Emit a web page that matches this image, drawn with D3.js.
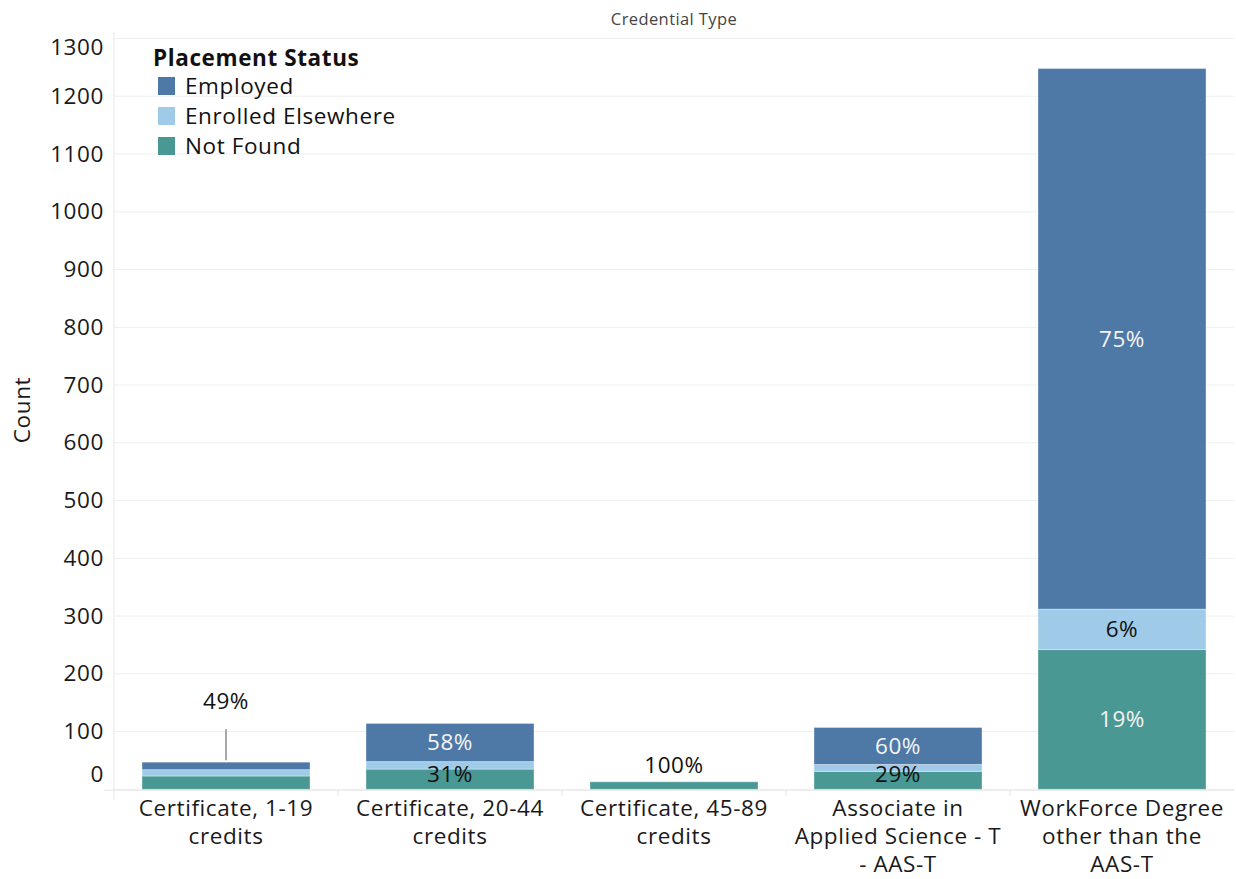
<!DOCTYPE html>
<html>
<head>
<meta charset="utf-8">
<script src="https://cdn.jsdelivr.net/npm/d3@7"></script>
<style>
  html, body { margin: 0; padding: 0; background: #fff; }
  svg { display: block; font-family: "Open Sans", Lato, sans-serif; letter-spacing: 0.6px; }
</style>
</head>
<body>
<svg id="chart" width="1236" height="879"></svg>
<script>
// Placement counts by credential type
const categories = [
  "Certificate, 1-19 credits",
  "Certificate, 20-44 credits",
  "Certificate, 45-89 credits",
  "Associate in Applied Science - T - AAS-T",
  "WorkForce Degree other than the AAS-T"
];
const categoryLines = [
  ["Certificate, 1-19", "credits"],
  ["Certificate, 20-44", "credits"],
  ["Certificate, 45-89", "credits"],
  ["Associate in", "Applied Science - T", "- AAS-T"],
  ["WorkForce Degree", "other than the", "AAS-T"]
];
const statuses = ["Employed", "Enrolled Elsewhere", "Not Found"];
const employed = [13, 66, 0, 64, 936];
const enrolledElsewhere = [11, 13, 0, 12, 70];
const notFound = [23, 35, 13, 31, 242];
const yTicks = [0, 100, 200, 300, 400, 500, 600, 700, 800, 900, 1000, 1100, 1200, 1300];

const colors = ["#4e79a7", "#a0cbe8", "#499894"];
const FONT = "'Open Sans', Lato, sans-serif";
const FS = 22.5;

const svg = d3.select("#chart");
const W = 1236, H = 879;
const margin = { top: 38.5, right: 2, bottom: 89.7, left: 114 };
const plotW = W - margin.left - margin.right;
const plotH = H - margin.top - margin.bottom;

const rows = categories.map((c, i) => ({
  category: c,
  "Employed": employed[i],
  "Enrolled Elsewhere": enrolledElsewhere[i],
  "Not Found": notFound[i]
}));
rows.forEach(r => { r.total = statuses.reduce((s, k) => s + r[k], 0); });

// Stack order from the baseline up: Not Found, Enrolled Elsewhere, Employed
const stackOrder = ["Not Found", "Enrolled Elsewhere", "Employed"];
const series = d3.stack().keys(stackOrder)(rows);

const x = d3.scaleBand().domain(categories).range([0, plotW]).paddingInner(0.25).paddingOuter(0.125);
const y = d3.scaleLinear().domain([0, 1300]).range([plotH, 0]);
const color = d3.scaleOrdinal().domain(statuses).range(colors);

const g = svg.append("g").attr("transform", `translate(${margin.left},${margin.top})`);

// Horizontal gridlines
g.append("g").selectAll("line").data(yTicks).join("line")
  .attr("x1", 0).attr("x2", plotW)
  .attr("y1", d => y(d)).attr("y2", d => y(d))
  .attr("stroke", "#efefef").attr("stroke-width", 1);

// Y axis labels (edge labels kept inside the pane)
const yAxis = d3.axisLeft(y).tickValues(yTicks).tickFormat(d3.format("d")).tickSize(0).tickPadding(10);
const yg = g.append("g").call(yAxis);
yg.select(".domain").remove();
yg.selectAll(".tick text")
  .attr("font-size", FS).attr("fill", "#1a1a1a")
  .attr("font-family", FONT)
  .attr("transform", d => d === 0 ? "translate(0,-15)" : (d === 1300 ? "translate(0,8.5)" : null));

// Pane border lines
g.append("line").attr("x1", 0).attr("x2", 0).attr("y1", -6).attr("y2", plotH + 10)
  .attr("stroke", "#e6e6e6").attr("stroke-width", 1);
g.append("line").attr("x1", -10).attr("x2", plotW).attr("y1", plotH + 1).attr("y2", plotH + 1)
  .attr("stroke", "#e6e6e6").attr("stroke-width", 1);

// Category separators on the x axis
g.append("g").selectAll("line").data(categories.slice(1)).join("line")
  .attr("x1", d => x(d) - x.step() * x.paddingInner() / 2)
  .attr("x2", d => x(d) - x.step() * x.paddingInner() / 2)
  .attr("y1", plotH + 1).attr("y2", plotH + 7)
  .attr("stroke", "#e6e6e6");

// Stacked bars
g.append("g").selectAll("g").data(series).join("g")
  .attr("fill", d => color(d.key))
  .selectAll("rect").data(d => d.filter(p => p[1] > p[0])).join("rect")
  .attr("x", d => x(d.data.category))
  .attr("width", x.bandwidth())
  .attr("y", d => y(d[1]))
  .attr("height", d => y(d[0]) - y(d[1]))
  .attr("stroke", "rgba(255,255,255,0.35)").attr("stroke-width", 1);

// Percentage labels
const labelG = g.append("g").attr("font-size", FS).attr("text-anchor", "middle");
series.forEach(s => {
  s.forEach(p => {
    const r = p.data;
    const v = r[s.key];
    if (v <= 0) return;
    const pct = Math.round(v / r.total * 100) + "%";
    const top = y(p[1]), bot = y(p[0]);
    const h = bot - top;
    const cx = x(r.category) + x.bandwidth() / 2;
    if (h >= 16) {
      const cy = Math.min((top + bot) / 2, plotH - 15);
      const dark = s.key !== "Enrolled Elsewhere" && h > 30;
      labelG.append("text").attr("x", cx).attr("y", cy).attr("dy", "0.35em")
        .attr("fill", dark ? "#f4f4f4" : "#111").text(pct);
    } else if (s.key === "Not Found") {
      const barTop = y(r.total);
      if (r.total > v) {
        // label lifted above the bar with a leader line
        g.append("line").attr("x1", cx).attr("x2", cx)
          .attr("y1", barTop - 33).attr("y2", barTop - 2)
          .attr("stroke", "#a8a8a8").attr("stroke-width", 2);
        labelG.append("text").attr("x", cx).attr("y", barTop - 61).attr("dy", "0.35em")
          .attr("fill", "#111").text(pct);
      } else {
        labelG.append("text").attr("x", cx).attr("y", barTop - 17).attr("dy", "0.35em")
          .attr("fill", "#111").text(pct);
      }
    }
  });
});

// X axis category labels, one text per wrapped line
const xl = g.append("g").attr("font-size", FS).attr("fill", "#1a1a1a").attr("text-anchor", "middle");
categories.forEach((c, i) => {
  categoryLines[i].forEach((line, j) => {
    xl.append("text").attr("x", x(c) + x.bandwidth() / 2)
      .attr("y", plotH + 19 + j * 28).attr("dy", "0.35em").text(line);
  });
});

// Axis titles
svg.append("text").attr("x", margin.left + plotW / 2).attr("y", 19).attr("dy", "0.35em")
  .attr("text-anchor", "middle").attr("font-size", 16.5).attr("letter-spacing", "0.4px")
  .attr("fill", "#444").text("Credential Type");
svg.append("text").attr("transform", `translate(22,${410}) rotate(-90)`).attr("dy", "0.35em")
  .attr("text-anchor", "middle").attr("font-size", FS).attr("fill", "#1a1a1a").text("Count");

// Legend
const lg = svg.append("g").attr("transform", "translate(153,58)");
lg.append("text").attr("x", 0).attr("y", 0).attr("dy", "0.35em")
  .attr("font-size", FS).attr("font-weight", "bold").attr("fill", "#111").text("Placement Status");
statuses.forEach((s, i) => {
  const row = lg.append("g").attr("transform", `translate(5,${28 + i * 30})`);
  row.append("rect").attr("x", 0).attr("y", -9).attr("width", 17).attr("height", 18).attr("fill", color(s));
  row.append("text").attr("x", 27).attr("y", 0).attr("dy", "0.35em")
    .attr("font-size", FS).attr("fill", "#111").text(s);
});
</script>
</body>
</html>
